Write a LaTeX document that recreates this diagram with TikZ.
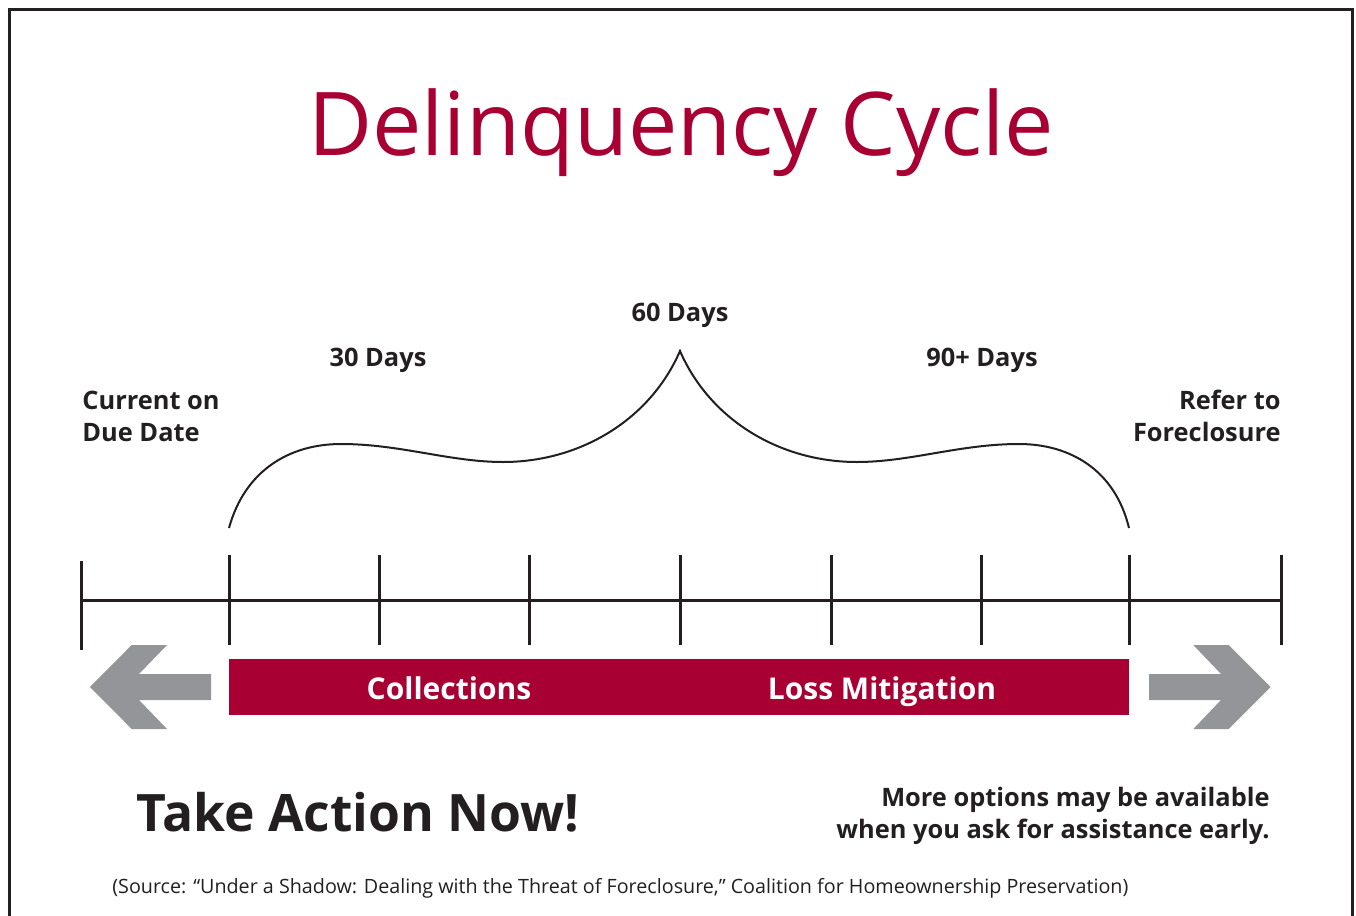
\documentclass[tikz,border=0pt]{standalone}
\usepackage{fontspec}
\setmainfont{Open Sans}
\newfontfamily\titlefont{Open Sans}
\definecolor{dcred}{RGB}{168,0,50}
\definecolor{dcgray}{RGB}{148,149,153}
\definecolor{dcink}{RGB}{35,31,32}
\begin{document}
\begin{tikzpicture}[x=0.5pt,y=-0.5pt,
  lbl/.style={inner sep=0pt,text=dcink,font=\bfseries\fontsize{12.7}{16}\selectfont},
  axisline/.style={draw=dcink,line width=1.5pt},
  bracel/.style={draw=dcink,line width=1pt},
  bigarrow/.style={fill=dcgray,draw=none},
  barlbl/.style={inner sep=0pt,text=white,font=\bfseries\fontsize{15}{18}\selectfont}]
\useasboundingbox (0,0) rectangle (1356,916);
% frame
\draw[dcink,line width=1.5pt] (9,930) -- (9,9) -- (1352,9) -- (1352,930);
% title
\node[inner sep=0pt,anchor=base,text=dcred,font=\titlefont\fontsize{44}{50}\selectfont] (title) at (681,155) {Delinquency Cycle};
% labels
\node[lbl,anchor=base] (d60) at (680,321) {60 Days};
\node[lbl,anchor=base] (d30) at (378,366) {30 Days};
\node[lbl,anchor=base] (d90) at (982,366) {90+ Days};
\node[lbl,anchor=base west,align=left] (cur) at (82,441) {Current on\\Due Date};
\node[lbl,anchor=base east,align=right] (ref) at (1281,441) {Refer to\\Foreclosure};
% axis
\coordinate (a0) at (81,600);
\coordinate (a8) at (1281,600);
\draw[axisline] (a0) -- (a8);
\draw[axisline] (81,561) -- (81,650);
\foreach \x in {229,379,529,680,831,981,1129,1281}
  \draw[axisline] (\x,555) -- (\x,645);
% brace
\draw[bracel] (229,528) .. controls (245,470) and (290,444) .. (341,444)
  .. controls (400,444) and (450,462) .. (503,462)
  .. controls (580,462) and (650,420) .. (680,351)
  .. controls (710,420) and (780,462) .. (857,462)
  .. controls (910,462) and (960,444) .. (1019,444)
  .. controls (1070,444) and (1115,470) .. (1129,528);
% bar
\fill[dcred] (229,659) rectangle (1129,715);
\node[barlbl,anchor=base] (coll) at (449,699) {Collections};
\node[barlbl,anchor=base] (loss) at (882,699) {Loss Mitigation};
% arrows
\fill[bigarrow] (90,687) -- (131.7,645) -- (167,645) -- (139,674) -- (211,674)
  -- (211,700) -- (139,700) -- (167,729) -- (131.7,729) -- cycle;
\fill[bigarrow] (1270.7,687) -- (1228.7,645) -- (1193.3,645) -- (1221,674) -- (1149,674)
  -- (1149,700) -- (1221,700) -- (1193.3,729) -- (1228.7,729) -- cycle;
% bottom texts
\node[inner sep=0pt,anchor=base west,text=dcink,font=\bfseries\fontsize{25.8}{30}\selectfont] (take) at (136,831) {Take Action Now!};
\node[lbl,anchor=base east,align=right] (more) at (1270,838) {More options may be available\\when you ask for assistance early.};
\node[inner sep=0pt,anchor=base west,text=dcink,font=\fontsize{9.86}{12}\selectfont] (src) at (112,893) {(Source: “Under a Shadow: Dealing with the Threat of Foreclosure,” Coalition for Homeownership Preservation)};
\end{tikzpicture}
\end{document}
